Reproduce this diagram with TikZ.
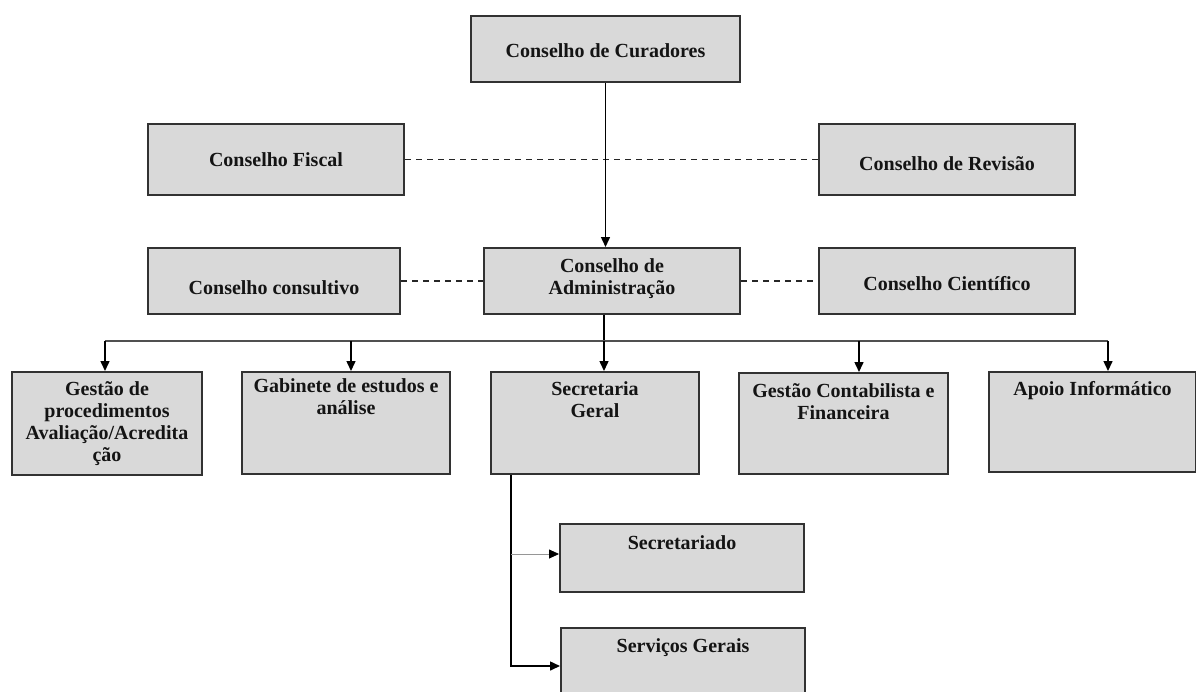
\documentclass[tikz,border=0pt]{standalone}
\usepackage{fontspec}
\setmainfont{Liberation Serif}
\usetikzlibrary{arrows.meta}

\definecolor{boxfill}{RGB}{217,217,217}
\definecolor{boxline}{RGB}{50,50,50}
\definecolor{busgray}{RGB}{80,80,80}
\definecolor{thingray}{RGB}{150,150,150}

\tikzset{
  orgbox/.style={draw=boxline, fill=boxfill, line width=2pt, inner sep=0pt, anchor=north west},
  txt/.style={font=\bfseries\fontsize{20}{22}\selectfont, align=center, inner sep=0pt, anchor=north, text=black!92},
  link/.style={line width=1.5pt, draw=black},
  arr/.style={link, -{Triangle[length=10pt,width=9pt]}},
  peer/.style={line width=1.5pt, draw=black!85, dash pattern=on 6pt off 5pt},
  busline/.style={line width=2pt, draw=busgray},
  thinarr/.style={line width=0.8pt, draw=thingray, -{Triangle[length=10pt,width=9pt,color=black]}}
}

% box: name, left x, top y, width, height (page units, y downwards)
\newcommand\orgunit[5]{\node[orgbox, minimum width=#4pt, minimum height=#5pt] (#1) at (#2,#3) {};}

\begin{document}
\begin{tikzpicture}[x=1pt, y=-1pt]
  \clip (0,0) rectangle (1196,691);
  \fill[white] (0,0) rectangle (1196,691);

  % boxes
  \orgunit{cur}{470}{15}{269}{66}
  \orgunit{fis}{147}{123}{256}{71}
  \orgunit{rev}{818}{123}{256}{71}
  \orgunit{con}{147}{247}{252}{66}
  \orgunit{adm}{483}{247}{256}{66}
  \orgunit{cie}{818}{247}{256}{66}
  \orgunit{ga}{11}{371}{190}{103}
  \orgunit{gb}{241}{371}{208}{102}
  \orgunit{gc}{490}{371}{208}{102}
  \orgunit{gd}{738}{372}{209}{101}
  \orgunit{ge}{988}{371}{207}{100}
  \orgunit{sa}{559}{523}{244}{68}
  \orgunit{sb}{560}{627}{244}{76}

  % labels
  \node[txt] (curT) at (cur.north |- 0,43) {Conselho de Curadores};
  \node[txt] (fisT) at (fis.north |- 0,152) {Conselho Fiscal};
  \node[txt] (revT) at (rev.north |- 0,156) {Conselho de Revisão};
  \node[txt] (conT) at (con.north |- 0,280) {Conselho consultivo};
  \node[txt] (admT) at (adm.north |- 0,258) {Conselho de\\Administração};
  \node[txt] (cieT) at (cie.north |- 0,276) {Conselho Científico};
  \node[txt] (gaT) at (ga.north |- 0,381) {Gestão de\\procedimentos\\Avaliação/Acredita\\ção};
  \node[txt] (gbT) at (gb.north |- 0,378) {Gabinete de estudos e\\análise};
  \node[txt] (gcT) at (gc.north |- 0,381) {Secretaria\\Geral};
  \node[txt] (gdT) at (gd.north |- 0,383) {Gestão Contabilista e\\Financeira};
  \node[txt] (geT) at (ge.north |- 0,381) {Apoio Informático};
  \node[txt] (saT) at (sa.north |- 0,535) {Secretariado};
  \node[txt] (sbT) at (sb.north |- 0,638) {Serviços Gerais};

  % peer relations
  \draw[peer] (fis.east) -- (rev.west);
  \draw[peer] (con.east) -- (adm.west);
  \draw[peer] (adm.east) -- (cie.west);

  % main chain
  \draw[arr] (cur.south) -- (cur.south |- adm.north);

  % distribution bus
  \coordinate (b1) at (105,341);
  \coordinate (b2) at (351,341);
  \coordinate (b3) at (604,341);
  \coordinate (b4) at (859,341);
  \coordinate (b5) at (1108,341);
  \draw[link] (b3 |- adm.south) -- (b3);
  \draw[busline] (b1) -- (b5);
  \draw[arr] (b1) -- (b1 |- ga.north);
  \draw[arr] (b2) -- (b2 |- gb.north);
  \draw[arr] (b3) -- (b3 |- gc.north);
  \draw[arr] (b4) -- (b4 |- gd.north);
  \draw[arr] (b5) -- (b5 |- ge.north);

  % secretaria branch
  \coordinate (sg) at (511,0);
  \coordinate (sgTop) at (sg |- gc.south);
  \coordinate (sgMid) at (511,554);
  \draw[arr] (sgTop) -- (sg |- sb.west) -- (sb.west);
  \draw[thinarr] (sgMid) -- (sgMid -| sa.west);
\end{tikzpicture}
\end{document}
